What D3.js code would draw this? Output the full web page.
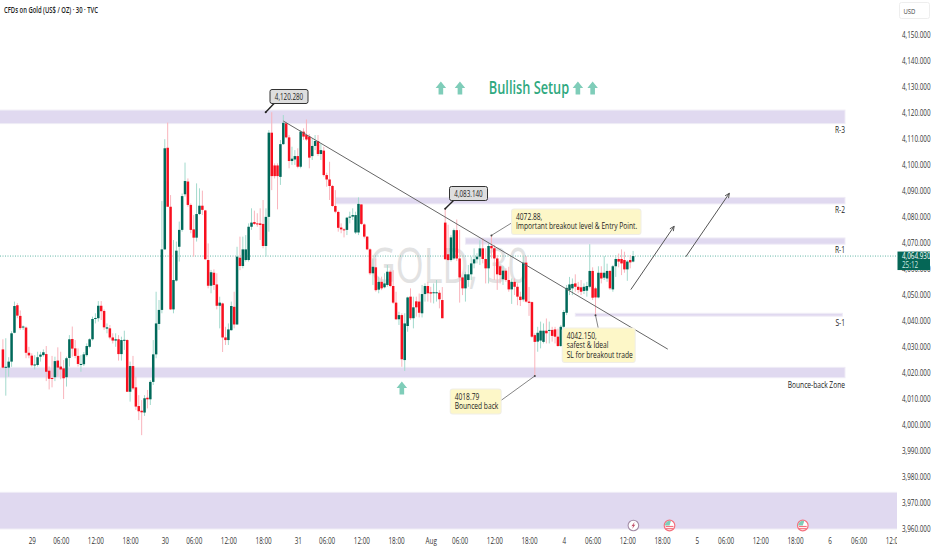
<!DOCTYPE html>
<html>
<head>
<meta charset="utf-8">
<title>CFDs on Gold</title>
<script src="https://cdn.jsdelivr.net/npm/d3@7"></script>
<style>
html, body { margin: 0; padding: 0; background: #fff; overflow: hidden; }
text { font-family: "Open Sans", sans-serif; }
</style>
</head>
<body>
<div id="chart"></div>
<script>
// 30 minute candles, bar 0 is the left edge of the picture
var opens = [
  4029,4022,4022,4024.3,4035.4,4046,4041.9,4037.5,4037.4,4027.7,
  4026.6,4023,4023,4026.2,4026.8,4027.2,4020.8,4018,4018.3,4024.7,
  4022.4,4021.7,4018.3,4025.7,4033,4029.4,4026.5,4023,4023.3,4026.8,
  4030,4032.9,4040.7,4041,4045.8,4043.8,4037,4037.1,4033.6,4032.4,
  4032.9,4027.2,4032.6,4032.6,4012.7,4022.6,4014.4,4007.2,4005.4,4004.7,
  4010.4,4009.8,4016.5,4027.1,4038.8,4044.2,4067.5,4106.6,4083.9,4044.4,
  4055.5,4068.5,4075,4088.7,4093.6,4084.6,4075.2,4072,4081.1,4084.3,
  4082.5,4063.4,4053.5,4058.5,4054,4045.8,4046.7,4033.6,4032.6,4036.4,
  4045.4,4038.6,4064.3,4061.1,4063.4,4063.4,4076.2,4078,4077.5,4077.5,
  4077.3,4068.8,4080,4112.4,4099.8,4099.8,4095.4,4108,4116,4110.6,
  4101.5,4102.1,4103.4,4099.3,4112.8,4111.5,4110.9,4103.4,4107.3,4109.2,
  4104.2,4105.5,4096.1,4094.4,4091.9,4084.2,4081.9,4075.9,4075.2,4075,
  4079.7,4080.1,4074,4074,4084.8,4077.1,4072.4,4067.5,4058.3,4060.6,
  4052,4055,4052.9,4053.8,4058.9,4053.4,4047,4040.6,4042.2,4024.9,
  4038,4049.3,4041,4047.5,4047.4,4042.9,4050.3,4053.4,4051,4050.8,
  4050.6,4050.8,4048,4077.8,4065.6,4063.4,4064,4074.9,4064,4056.7,
  4052.5,4055.7,4057.9,4062.1,4063.7,4064.7,4067.9,4063.8,4060.2,4068.8,
  4067.9,4064,4061,4056,4059.3,4055.7,4052.1,4055,4053.1,4049.3,
  4048.2,4062.4,4047.4,4047.2,4034.5,4032,4032.4,4031.9,4036.2,4036.2,
  4036.5,4036.7,4033.9,4030.3,4037.7,4043.1,4051.8,4052.5,4054.4,4053.1,
  4052.9,4051.5,4051.6,4053.1,4059.2,4052.5,4049,4058.5,4056.6,4056.3,
  4059.2,4052.1,4061,4063.8,4063.8,4063.4,4059.8,4063.4,4062.8
];
var highs = [
  4032.9,4033.3,4026,4036,4047.4,4046.8,4044,4038.2,4037.8,4030,
  4027.5,4026.8,4028.1,4028.1,4029,4030.3,4022.4,4026.5,4026.2,4029.8,
  4028.1,4024.9,4026.2,4034.5,4037.8,4032.6,4029.4,4026.8,4028,4031.3,
  4033.3,4041.6,4042.9,4047.6,4047.6,4044.4,4039,4038.4,4035.2,4035.2,
  4034.5,4033.9,4036.2,4032.9,4024.3,4026.5,4018.5,4011.4,4009.5,4011.4,
  4013.4,4017.2,4032.6,4051.2,4048,4086.1,4109.9,4116.3,4088.4,4071.1,
  4070.5,4078.2,4089,4100.9,4094.8,4085.2,4080.7,4092.9,4091,4090.1,
  4082.7,4069.8,4059.6,4059.8,4058.3,4049.3,4047,4037.7,4039,4047.4,
  4051.2,4068.5,4072.4,4072.4,4073,4077.5,4083.3,4082.4,4081.4,4083.3,
  4086.5,4083.3,4113.4,4120.28,4100.6,4100.6,4109.6,4119.2,4116.6,4111.5,
  4107,4105.7,4106.4,4113.4,4114.1,4117.5,4111.9,4110.2,4111.5,4111.5,
  4108.3,4107,4097,4101.2,4092.3,4090.3,4082.4,4077.5,4075.6,4080,
  4082,4083.3,4082,4087.5,4084.8,4077.5,4072.6,4067.9,4064,4064,
  4057,4057,4058.3,4061.5,4059.5,4059.5,4051.2,4043.5,4042.9,4042.9,
  4049.3,4052.5,4049.3,4049.3,4050.5,4053.8,4054.4,4055,4053.1,4054.4,
  4055.7,4051.8,4053,4083.14,4077,4073,4075.5,4079,4075,4057,
  4058.9,4061.5,4064.7,4067.9,4066,4071,4071.7,4067.9,4069.8,4072.88,
  4069.2,4065.3,4061.5,4061,4060.2,4060.8,4056.3,4056.3,4054.4,4051.2,
  4064.9,4064.9,4053,4047.4,4035.2,4037.7,4039.7,4039,4040.9,4039.7,
  4037.7,4037.7,4037,4038.4,4044.2,4053.8,4056.9,4056.3,4057.9,4055,
  4055.7,4054.4,4055,4069.5,4060.6,4053.1,4061,4061,4064.9,4062,
  4059.5,4061.5,4065.3,4065.9,4067.5,4066.6,4063.4,4065.3,4066.9
];
var lows = [
  4021.7,4011.2,4018.5,4022.3,4035.2,4041,4036.5,4036.5,4025.6,4025.6,
  4022.4,4021.3,4022.4,4024.3,4026.2,4016.8,4013.6,4014.4,4016.8,4018.5,
  4017.5,4009.9,4014.7,4022.4,4026.2,4025.6,4022.4,4020.4,4022.6,4026.2,
  4029.4,4032.4,4039,4039.7,4040.3,4036.5,4035.2,4032.9,4031.3,4030,
  4024.7,4024.7,4028.8,4012.7,4008.9,4013.4,4005.7,4001.8,3996,4003.4,
  4006.3,4007.6,4015.3,4025.6,4036.5,4042.9,4067.3,4083.9,4044.2,4042.9,
  4055.1,4062.8,4074.3,4087.8,4083.9,4073.7,4064.7,4070.5,4080.7,4080.7,
  4063.4,4052.5,4050.6,4051.9,4044.4,4037.1,4028,4030.7,4030.7,4036.2,
  4037.1,4038.4,4059.5,4060.2,4062.8,4062.8,4075,4076.9,4076.2,4071.1,
  4067.9,4064.7,4074.3,4090.3,4094.8,4082.9,4092.3,4107.7,4110.2,4098.7,
  4100,4100,4098.7,4098.7,4109.6,4109.3,4098.7,4101.9,4105.7,4103.4,
  4101.9,4095.5,4091.6,4086.5,4083.9,4081.4,4074.3,4073.7,4072.1,4073,
  4077.5,4078.8,4073.4,4073,4076.9,4071.7,4067.2,4057.6,4053.8,4051.2,
  4050.6,4051.8,4052.5,4053.1,4052.9,4046.5,4040.3,4038.4,4022.3,4020.7,
  4035.8,4040.3,4037.1,4041.6,4041.3,4041.3,4047.4,4047.4,4047,4046.7,
  4047.4,4044.8,4041,4063.5,4063.1,4062.8,4063.4,4063,4047,4049.9,
  4047.4,4053.1,4055.7,4060.2,4062.1,4061.5,4062.1,4054.4,4054.4,4064,
  4055.7,4051.9,4054.4,4053.8,4055,4051.2,4046.5,4049.9,4046,4045.7,
  4047.4,4047,4041.9,4033.5,4018.79,4028.1,4029.4,4031.3,4031.3,4031.3,
  4032,4031.3,4030,4030,4033.9,4042.2,4049.9,4049.9,4051.2,4050.6,
  4049.9,4050.3,4049.3,4052.5,4048,4042.15,4048.7,4054.4,4055.7,4055,
  4051.9,4051.2,4056.9,4060.6,4057.6,4058.5,4055.4,4060.2,4062.5
];
var closes = [
  4022,4022.3,4024.3,4035.2,4045.7,4042,4037.2,4037.8,4027.7,4026.7,
  4022.9,4023.2,4026,4027,4027.9,4020.4,4017.7,4017.7,4024.5,4022,
  4021.3,4017.9,4025.6,4032.9,4029.3,4026.5,4023.4,4023.4,4027.1,4030.3,
  4032.9,4040.7,4041.1,4045.8,4043.7,4037.5,4037.5,4033.6,4032.4,4032.9,
  4027.2,4032.6,4032.7,4012.7,4022.6,4014,4007,4005.2,4004.8,4010.2,
  4009.8,4016.5,4027.1,4039,4044.2,4067.5,4106.4,4083.9,4044.4,4055.7,
  4067,4075,4088,4093.8,4084.6,4075,4072,4081.1,4084.3,4082.7,
  4063.7,4053.5,4058.7,4053.8,4045.8,4047,4033.6,4032.6,4036.7,4045.7,
  4038.6,4064.7,4061.1,4067.5,4067.5,4076.2,4077.8,4077.3,4077.1,4076.9,
  4068.8,4080,4112.4,4095.7,4095.7,4095.7,4108,4116.2,4110.6,4101.5,
  4102.4,4103.4,4099.3,4112.8,4110.9,4109.8,4102.8,4107.3,4109.2,4104.2,
  4105.7,4096.1,4094.4,4091.9,4084.2,4082,4075.8,4075.2,4075,4079.7,
  4080.1,4080.7,4080.7,4085,4077.3,4072.4,4067.5,4058.3,4060.8,4051.8,
  4055,4052.5,4054.4,4058.9,4053.4,4047,4040.6,4042.2,4025.2,4039,
  4049,4041,4045.2,4045.2,4043.1,4050.3,4053.4,4050.6,4050.5,4051,
  4051,4048.3,4041,4063.7,4063.4,4072.1,4074.9,4064,4056.7,4052.5,
  4057.9,4057.9,4062.1,4063.7,4064.7,4067.9,4063.8,4060.2,4068.8,4067.9,
  4064,4057.9,4057.6,4059.3,4055.7,4052.1,4055,4053.1,4049.3,4048,
  4062.4,4047.4,4046.9,4033.9,4031.9,4035.4,4036.2,4036.2,4035.2,4036.5,
  4034.2,4033.9,4030.3,4037.7,4043.4,4052.7,4054,4054.2,4053.1,4051.9,
  4051.2,4053.1,4053.4,4059.2,4048.9,4049,4058.5,4056.3,4058.5,4059.2,
  4052.5,4061,4063.8,4062.8,4062.1,4059.8,4062.8,4062.5,4064.93
];

var lastPrice = 4064.93;
var priceTicks = d3.range(3960, 4151, 10);
var timeBars = [10,20,32,44,56,66,78,90,102,112,124,136,148,158,170,182,194,204,216,228,240,250,262,274,286,296,308];
var timeLabels = ['29','06:00','12:00','18:00','30','06:00','12:00','18:00','31','06:00','12:00','18:00','Aug','06:00','12:00','18:00','4','06:00','12:00','18:00','5','06:00','12:00','18:00','6','06:00','12:00'];

// support and resistance bands
var zoneTops = [4121.1, 4087.5, 4071.9, 4042.9, 4022.1, 3974];
var zoneBottoms = [4115.9, 4085, 4069.5, 4041.8, 4018.1, 3959.9];
var zoneFrom = [-3, 115, 160, 198, -3, -3];
var zoneTo = [291.3, 291.3, 291.3, 290.4, 291.3, 312];
var zoneNames = ['R-3', 'R-2', 'R-1', 'S-1', 'Bounce-back Zone'];
var zoneNamePrices = [4113.3, 4082.8, 4067.1, 4039, 4015.2];

var width = 932, height = 550, plotRight = 897;
var squeeze = 0.74;

var x = d3.scaleLinear().domain([0, 218]).range([2.9, 633.1]);
var y = d3.scaleLinear().domain([3960, 4150]).range([528.7, 35]);

var svg = d3.select('#chart').append('svg').attr('width', width).attr('height', height);
svg.append('clipPath').attr('id', 'plot').append('rect').attr('width', plotRight).attr('height', height);

function label(parent, px, py, str, o) {
  o = o || {};
  return parent.append('text')
    .attr('transform', 'translate(' + px + ',' + py + ') scale(' + (o.sx || squeeze) + ',1)')
    .attr('font-size', o.size || 9)
    .attr('font-weight', o.weight || 400)
    .attr('fill', o.fill || '#333')
    .attr('text-anchor', o.anchor || 'start')
    .text(str);
}

var plot = svg.append('g').attr('clip-path', 'url(#plot)');

// watermark sits behind everything
label(plot, 449, 283, 'GOLD, 30', { size: 50, fill: '#e2e2e2', anchor: 'middle', sx: 0.72 });

// zones
zoneTops.forEach(function (t, i) {
  plot.append('rect')
    .attr('x', x(zoneFrom[i]))
    .attr('y', y(t))
    .attr('width', x(zoneTo[i]) - x(zoneFrom[i]))
    .attr('height', y(zoneBottoms[i]) - y(t))
    .attr('fill', '#e0d9f0')
    .attr('stroke', '#efecf6');
});

// last price line
plot.append('line')
  .attr('x1', 0).attr('x2', plotRight)
  .attr('y1', y(lastPrice)).attr('y2', y(lastPrice))
  .attr('stroke', '#4fae9c')
  .attr('stroke-dasharray', '1 1.5')
  .attr('stroke-width', 0.9);

// candles
var up = function (i) { return closes[i] >= opens[i]; };
plot.selectAll('.wick').data(opens).enter().append('line')
  .attr('class', 'wick')
  .attr('x1', function (d, i) { return x(i); })
  .attr('x2', function (d, i) { return x(i); })
  .attr('y1', function (d, i) { return y(highs[i]); })
  .attr('y2', function (d, i) { return y(lows[i]); })
  .attr('stroke', function (d, i) { return up(i) ? '#a3dacd' : '#f9b4bc'; })
  .attr('stroke-width', 1);
plot.selectAll('.body').data(opens).enter().append('rect')
  .attr('class', 'body')
  .attr('x', function (d, i) { return x(i) - 1.25; })
  .attr('width', 2.5)
  .attr('y', function (d, i) { return y(Math.max(d, closes[i])); })
  .attr('height', function (d, i) { return Math.max(1, Math.abs(y(d) - y(closes[i]))); })
  .attr('fill', function (d, i) { return up(i) ? '#00695a' : '#f8101f'; });

// zone names
zoneNames.forEach(function (n, i) {
  label(plot, 845, y(zoneNamePrices[i]) + 3, n, { anchor: 'end', size: 9, fill: '#222' });
});

// trend line and projection arrows, in bar and price terms
var trendBars = [97, 230], trendPrices = [4116.9, 4029.1];
plot.append('line')
  .attr('x1', x(trendBars[0])).attr('y1', y(trendPrices[0]))
  .attr('x2', x(trendBars[1])).attr('y2', y(trendPrices[1]))
  .attr('stroke', '#666').attr('stroke-width', 1);

var arrowFrom = [[217.2, 4052], [236.2, 4064.6]];
var arrowTo = [[232.2, 4076.4], [251.3, 4089.1]];
arrowFrom.forEach(function (a, i) {
  var x1 = x(a[0]), y1 = y(a[1]), x2 = x(arrowTo[i][0]), y2 = y(arrowTo[i][1]);
  var ang = Math.atan2(y2 - y1, x2 - x1);
  var head = d3.path();
  head.moveTo(x1, y1);
  head.lineTo(x2, y2);
  [2.6, -2.6].forEach(function (s) {
    head.moveTo(x2, y2);
    head.lineTo(x2 - 5 * Math.cos(ang + s / 6), y2 - 5 * Math.sin(ang + s / 6));
  });
  plot.append('path').attr('d', head.toString()).attr('fill', 'none').attr('stroke', '#555').attr('stroke-width', 1);
});

// block arrows
function blockArrow(cx, cy, w, h) {
  var p = d3.path();
  p.moveTo(cx, cy - h / 2);
  p.lineTo(cx + w / 2, cy - h / 2 + h * 0.5);
  p.lineTo(cx + w * 0.22, cy - h / 2 + h * 0.5);
  p.lineTo(cx + w * 0.22, cy + h / 2);
  p.lineTo(cx - w * 0.22, cy + h / 2);
  p.lineTo(cx - w * 0.22, cy - h / 2 + h * 0.5);
  p.lineTo(cx - w / 2, cy - h / 2 + h * 0.5);
  p.closePath();
  plot.append('path').attr('d', p.toString()).attr('fill', '#7fcdb9');
}
[151.5, 158.1, 198.9, 204].forEach(function (b) { blockArrow(x(b), 88, 10.5, 13); });
blockArrow(x(138), 388, 10.5, 13);

label(plot, 529, 94, 'Bullish Setup', { size: 17.5, weight: 600, fill: '#2fa97f', anchor: 'middle', sx: 0.73 });

// price callouts with a tail
function priceCallout(bar, price, str, bx, by) {
  var ax = x(bar), ay = y(price);
  plot.append('line').attr('x1', bx + 5).attr('y1', by + 13).attr('x2', ax).attr('y2', ay)
    .attr('stroke', '#222').attr('stroke-width', 1.4);
  plot.append('circle').attr('cx', ax).attr('cy', ay).attr('r', 1).attr('fill', '#222');
  plot.append('rect').attr('x', bx).attr('y', by).attr('width', 38).attr('height', 14)
    .attr('rx', 2).attr('fill', '#dedede').attr('stroke', '#333').attr('stroke-width', 1);
  label(plot, bx + 19, by + 10, str, { anchor: 'middle', size: 8.5, fill: '#222' });
}
priceCallout(90.9, 4120.28, '4,120.280', 270, 89.5);
priceCallout(153, 4083.14, '4,083.140', 449.5, 186.5);

// yellow notes with a connector
function note(bar, price, lx, ly, box, lines) {
  plot.append('line').attr('x1', lx).attr('y1', ly).attr('x2', x(bar)).attr('y2', y(price))
    .attr('stroke', '#777').attr('stroke-width', 0.9);
  plot.append('circle').attr('cx', x(bar)).attr('cy', y(price)).attr('r', 1).attr('fill', '#444');
  plot.append('rect').attr('x', box[0] - 1).attr('y', box[1] - 1).attr('width', box[2] + 2).attr('height', box[3] + 2)
    .attr('rx', 3).attr('fill', '#f0eee6');
  plot.append('rect').attr('x', box[0]).attr('y', box[1]).attr('width', box[2]).attr('height', box[3])
    .attr('rx', 2).attr('fill', '#fdf7c8');
  lines.forEach(function (s, i) {
    label(plot, box[0] + 4, box[1] + 10 + i * 9.6, s, { size: 9, fill: '#222' });
  });
}
note(169, 4072.88, 512, 222.7, [512, 209.5, 128.5, 24.5], ['4072.88,', 'Important breakout level & Entry Point.']);
note(205, 4042.15, 598.3, 328.5, [562.7, 328.5, 72, 33.5], ['4042.150,', 'safest & Ideal', 'SL for breakout trade']);
note(184, 4018.79, 500.7, 400.7, [450.7, 389.5, 50, 24], ['4018.79', 'Bounced back']);

// economic event icons on the time line
function boltIcon(cx, cy) {
  plot.append('circle').attr('cx', cx).attr('cy', cy).attr('r', 5.3).attr('fill', '#fff').attr('stroke', '#a58fa8').attr('stroke-width', 1.1);
  plot.append('path').attr('d', 'M' + (cx + 1.2) + ' ' + (cy - 3.6) + 'L' + (cx - 2) + ' ' + (cy + 0.7) + 'L' + (cx - 0.2) + ' ' + (cy + 0.4) + 'L' + (cx - 1.2) + ' ' + (cy + 3.6) + 'L' + (cx + 2) + ' ' + (cy - 0.9) + 'L' + (cx + 0.2) + ' ' + (cy - 0.6) + 'Z')
    .attr('fill', '#c0506a');
}
function flagIcon(cx, cy) {
  plot.append('circle').attr('cx', cx).attr('cy', cy).attr('r', 5.3).attr('fill', '#fff').attr('stroke', '#f4727f').attr('stroke-width', 1.2);
  plot.append('path').attr('d', d3.arc()({ innerRadius: 0, outerRadius: 4.7, startAngle: -Math.PI / 2, endAngle: Math.PI * 0.1 }))
    .attr('transform', 'translate(' + cx + ',' + cy + ')').attr('fill', '#7fcdb9');
  [0.4, 2.6].forEach(function (dy) {
    plot.append('rect').attr('x', cx - 3.9).attr('y', cy + dy).attr('width', 7.8).attr('height', 1.2).attr('fill', '#f4727f');
  });
}
var eventBars = [218.1, 230.6, 276.7];
boltIcon(x(eventBars[0]), 525.5);
flagIcon(x(eventBars[1]), 525.5);
flagIcon(x(eventBars[2]), 525.5);

// price axis
var yAxis = svg.append('g').attr('transform', 'translate(902,0)')
  .call(d3.axisRight(y).tickValues(priceTicks).tickSize(0).tickPadding(0).tickFormat(d3.format(',.3f')));
yAxis.select('.domain').remove();
yAxis.selectAll('text')
  .attr('x', 0)
  .attr('transform', function () { return 'scale(' + squeeze * 0.95 + ',1)'; })
  .attr('font-size', 9)
  .attr('fill', '#333');

// time axis
var xAxisClip = svg.append('g').attr('clip-path', 'url(#plot)');
var xAxis = xAxisClip.append('g').attr('transform', 'translate(0,538)')
  .call(d3.axisBottom(x).tickValues(timeBars).tickSize(0).tickPadding(0)
    .tickFormat(function (d) { return timeLabels[timeBars.indexOf(d)]; }));
xAxis.select('.domain').remove();
xAxis.selectAll('text')
  .attr('transform', 'scale(' + squeeze * 0.95 + ',1)')
  .attr('font-size', 9)
  .attr('fill', '#333');

// last price tag
svg.append('rect').attr('x', 897.5).attr('y', y(lastPrice) - 4.5).attr('width', 32.5).attr('height', 18.5).attr('fill', '#056656');
label(svg, 902, y(lastPrice) + 3, d3.format(',.3f')(lastPrice), { size: 9, fill: '#fff', sx: squeeze * 0.95 });
label(svg, 902, y(lastPrice) + 12, '25:12', { size: 9, fill: '#cfe9e2', sx: squeeze * 0.95 });

// header
label(svg, 4, 13, 'CFDs on Gold (US$ / OZ) · 30 · TVC', { size: 9.5, weight: 600, fill: '#222', sx: 0.62 });
svg.append('rect').attr('x', 899.5).attr('y', 2.5).attr('width', 30).attr('height', 16).attr('rx', 2)
  .attr('fill', '#fff').attr('stroke', '#eee');
label(svg, 903.5, 13.5, 'USD', { size: 8, fill: '#444' });
</script>
</body>
</html>
